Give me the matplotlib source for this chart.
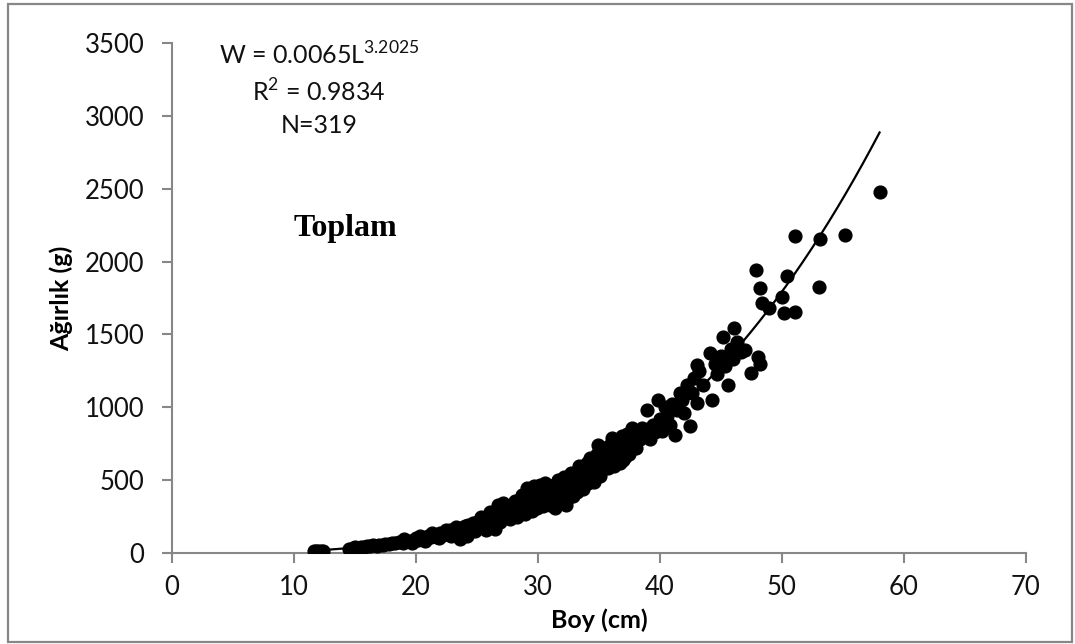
import numpy as np
import matplotlib
matplotlib.use("Agg")
import matplotlib.pyplot as plt
from matplotlib.patches import Rectangle

plt.rcParams['font.family'] = ['Lato', 'DejaVu Sans']
plt.rcParams['mathtext.fontset'] = 'custom'
plt.rcParams['mathtext.rm'] = 'Lato'

# length (cm) / weight (g)
boy = [11.6, 11.8, 12.0, 12.2, 12.4,
       14.5, 14.8, 15.0, 15.2, 15.5, 15.7, 16.0, 16.2, 16.5, 16.8, 17.0,
       17.3, 17.5, 17.8, 18.0, 18.3, 18.6, 18.9, 19.2, 19.5, 19.8,
       19.0, 19.7, 20.3, 20.7, 21.3, 21.9, 22.5, 22.9, 23.3, 23.9,
       20.0, 20.2, 20.5, 20.8, 21.0, 21.2, 21.5, 21.7, 22.0, 22.2, 22.4,
       22.6, 22.8, 23.0, 23.2, 23.4, 23.6, 23.6, 23.8, 24.0, 24.1, 24.3,
       24.5, 24.7, 24.9, 25.0, 25.2, 25.4, 25.6, 25.8, 26.0, 26.5,
       24.2, 24.8, 25.3, 25.7, 26.1, 26.3, 26.9, 27.3, 27.7, 28.1, 28.3,
       28.7, 28.9, 29.3, 29.5, 29.7, 29.9, 30.2, 30.4, 30.6, 30.8, 30.9,
       26.2, 26.4, 26.6, 26.7, 26.8, 27.0, 27.1, 27.2, 27.4, 27.6, 27.8,
       28.0, 28.2, 28.4, 28.6, 28.8, 29.0, 29.1, 29.2, 29.4, 29.6, 29.8,
       30.0, 30.1, 30.3, 30.5, 30.7,
       31.0, 31.0, 31.2, 31.3, 31.5, 31.6, 31.8, 32.0, 32.0, 32.2, 32.4,
       32.6, 32.8, 33.0, 33.1, 33.3, 33.5, 33.6, 33.8, 34.0, 34.0, 34.2,
       34.4, 34.5, 34.7, 34.9, 35.0, 35.1, 35.3, 35.5, 35.6, 35.8, 36.0,
       36.1, 36.3, 36.4, 36.6, 36.8, 37.0, 37.0, 37.2, 37.4, 37.6, 37.7,
       37.9, 38.0,
       31.4, 31.7, 32.1, 32.3, 32.5, 32.7, 32.9, 33.2, 33.4, 33.7, 33.9,
       34.1, 34.3, 34.6, 34.8, 35.2, 35.4, 35.7, 35.9, 36.2, 36.5, 36.7,
       36.9, 37.1, 37.3, 37.5, 37.8,
       38.2, 38.4, 38.5, 38.7, 38.9, 39.0, 39.2, 39.4, 39.6, 39.8, 40.0,
       40.2, 40.4, 40.6, 40.8, 41.0, 41.2, 41.4, 41.6, 41.8, 42.0, 42.2,
       42.5, 42.6, 42.8, 43.0, 43.0, 43.2, 43.5,
       44.1, 44.3, 44.5, 44.7, 45.0, 45.2, 45.3, 45.6, 45.8, 46.0, 46.1,
       46.3, 46.6, 47.0, 47.5, 48.0, 48.2, 47.9, 48.2, 48.4, 48.9, 50.0,
       50.4, 50.2, 51.1, 51.1, 53.0, 53.1, 55.2, 58.0]

agirlik = [12, 15, 14, 16, 13,
           30, 33, 38, 35, 42, 40, 48, 45, 52, 50, 58,
           55, 64, 60, 70, 66, 78, 72, 85, 80, 92,
           95, 70, 120, 85, 135, 105, 160, 120, 180, 135,
           100, 90, 105, 98, 118, 108, 125, 112, 135, 122, 140,
           130, 155, 145, 165, 150, 175, 95, 160, 185, 168, 195,
           178, 205, 190, 215, 185, 225, 200, 240, 215, 165,
           120, 150, 250, 160, 280, 190, 210, 320, 230, 360, 250,
           400, 270, 420, 290, 460, 310, 470, 320, 480, 350, 430,
           250, 230, 260, 330, 240, 275, 343, 250, 290, 265, 310,
           280, 325, 295, 340, 310, 360, 446, 330, 380, 345, 400,
           365, 420, 380, 440, 395,
           330, 440, 360, 470, 400, 501, 380, 430, 350, 460, 400,
           490, 420, 520, 450, 556, 480, 520, 500, 618, 540, 560,
           500, 600, 560, 741, 620, 530, 650, 600, 690, 620, 660,
           789, 700, 630, 720, 680, 760, 640, 740, 700, 800, 858,
           760, 720,
           310, 480, 520, 330, 380, 550, 390, 420, 600, 440, 580,
           480, 650, 490, 680, 560, 720, 580, 740, 600, 760, 620,
           800, 660, 820, 680, 840,
           820, 780, 860, 800, 981, 850, 780, 880, 830, 1050, 920,
           840, 1000, 940, 880, 1020, 810, 980, 1100, 1050, 960, 1150,
           870, 1100, 1200, 1029, 1290, 1250, 1150,
           1373, 1050, 1300, 1230, 1350, 1482, 1280, 1153, 1400, 1330, 1544,
           1450, 1380, 1393, 1235, 1345, 1297, 1942, 1819, 1716, 1681, 1757,
           1901, 1647, 1654, 2175, 1826, 2155, 2180, 2480]

# fitted relation given on the chart
a_coef = 0.0065
b_exp = 3.2025
r2 = 0.9834
n_fish = 319

fig = plt.figure(figsize=(10.75, 6.44), dpi=100)
ax = fig.add_axes([0.16, 0.1413, 0.7944, 0.7919])

# frame round the whole chart
fig.patches.append(Rectangle((8 / 1075, 2 / 644), 1064 / 1075, 638 / 644,
                             transform=fig.transFigure, fill=False,
                             edgecolor='#878787', linewidth=1.6))

L_fit = np.linspace(11.5, 58, 200)
ax.plot(L_fit, a_coef * L_fit ** b_exp, color='black', linewidth=1.6, zorder=2)
ax.plot(boy, agirlik, 'o', color='black', markersize=9.2, zorder=3)

ax.set_xlim(0, 70)
ax.set_ylim(0, 3500)
ax.set_xticks(range(0, 71, 10))
ax.set_yticks(range(0, 3501, 500))

for s in ['top', 'right']:
    ax.spines[s].set_visible(False)
for s in ['left', 'bottom']:
    ax.spines[s].set_color('#878787')
    ax.spines[s].set_linewidth(1.5)
ax.tick_params(axis='both', colors='#878787', width=1.5, length=7,
               labelsize=18.5, labelcolor='#111111')
ax.tick_params(axis='y', pad=13)
ax.tick_params(axis='x', pad=9)

ax.set_xlabel('Boy (cm)', fontsize=18, fontweight='bold', labelpad=6)
ax.set_ylabel('Ağırlık (g)', fontsize=18, fontweight='bold', labelpad=8)

ax.text(0.172, 0.976, r'W = 0.0065L$^{\mathrm{3.2025}}$', transform=ax.transAxes,
        ha='center', va='center', fontsize=18, color='#111111')
ax.text(0.172, 0.903, r'R$^{\mathrm{2}}$ = %.4f' % r2, transform=ax.transAxes,
        ha='center', va='center', fontsize=18, color='#111111')
ax.text(0.172, 0.838, 'N=%d' % n_fish, transform=ax.transAxes,
        ha='center', va='center', fontsize=18, color='#111111')
ax.text(0.203, 0.637, 'Toplam', transform=ax.transAxes, ha='center',
        va='center', fontsize=23, fontweight='bold',
        family=['Liberation Serif', 'DejaVu Serif'])

fig.savefig('out.png', dpi=100)
